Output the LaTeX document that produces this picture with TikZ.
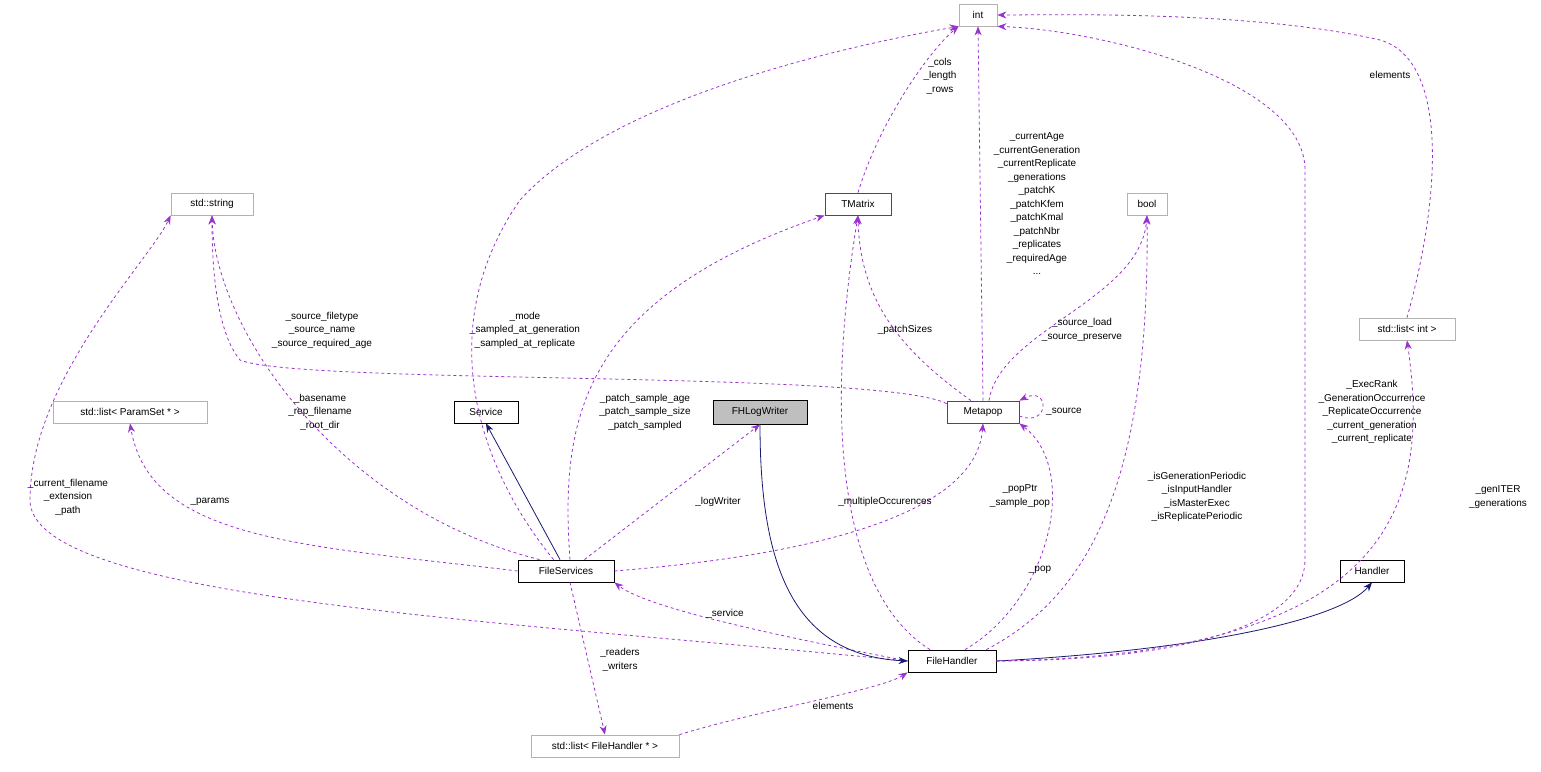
\documentclass[tikz,border=0pt]{standalone}
\usepackage{fontspec}
\setmainfont{Liberation Sans}
\usetikzlibrary{arrows.meta}
\begin{document}
\begin{tikzpicture}[x=1pt,y=-1pt,
  box/.style={draw,rectangle,minimum height=22pt,inner xsep=4pt,font=\fontsize{10}{12}\selectfont,line width=0.8pt},
  ext/.style={box,draw=gray!60},
  red/.style={box,draw=red},
  dep/.style={draw=violet!70!magenta,dashed,line width=0.8pt,-{Stealth[length=9pt,width=7pt]}},
  inh/.style={draw={rgb,255:red,25;green,25;blue,112},line width=0.8pt,-{Stealth[length=9pt,width=7pt]}},
  lbl/.style={font=\fontsize{10}{13.5}\selectfont,align=center,inner sep=0pt}]
\useasboundingbox (0,0) rectangle (1541,771);
\colorlet{violet!70!magenta}{violet}
\definecolor{pp}{HTML}{9A32CD}
\tikzset{dep/.style={draw=pp,dashed,line width=0.8pt,-{Stealth[length=9pt,width=7pt]}}}
\node[ext,minimum width=38pt] (int) at (978,15) {int};
\node[ext,minimum width=82pt] (str) at (212,204) {std::string};
\node[red,minimum width=66pt] (tm) at (858,204) {TMatrix};
\node[ext,minimum width=40pt] (bool) at (1147,204) {bool};
\node[ext,minimum width=96pt] (li) at (1407,329) {std::list< int >};
\node[ext,minimum width=154pt] (lp) at (130,412) {std::list< ParamSet * >};
\node[box,minimum width=64pt] (svc) at (486,412) {Service};
\node[box,minimum width=94pt,minimum height=24pt,fill=gray!50] (fhl) at (760,412) {FHLogWriter};
\node[red,minimum width=72pt] (mp) at (983,412) {Metapop};
\node[box,minimum width=96pt] (fs) at (566,571) {FileServices};
\node[box,minimum width=64pt] (hd) at (1372,571) {Handler};
\node[box,minimum width=88pt] (fh) at (952,661) {FileHandler};
\node[ext,minimum width=148pt] (lfh) at (605,746) {std::list< FileHandler * >};
% edges from FileServices
\draw[dep] (fs.north west) ++(36,0) .. controls (480,470) and (430,330) .. (520,200) .. controls (620,90) and (880,40) .. (int.south west);
\node[lbl] at (525,330) {\_mode\\\_sampled\_at\_generation\\\_sampled\_at\_replicate};
\draw[dep] (fs.north west) ++(22,0) .. controls (340,510) and (215,330) .. (str.south);
\node[lbl] at (320,412) {\_basename\\\_rep\_filename\\\_root\_dir};
\draw[dep] (fs.west) .. controls (300,545) and (150,540) .. (lp.south);
\node[lbl] at (210,502) {\_params};
\draw[inh] (fs.north) ++(-6,0) -- (svc.south);
\draw[dep] (fs.north) ++(4,0) .. controls (560,420) and (580,300) .. (tm.south west);
\node[lbl] at (645,412) {\_patch\_sample\_age\\\_patch\_sample\_size\\\_patch\_sampled};
\draw[dep] (fs.north east) ++(-30,0) -- (fhl.south);
\node[lbl] at (718,502) {\_logWriter};
\draw[dep] (fs.east) .. controls (750,560) and (975,530) .. (mp.south);
\node[lbl] at (1020,496) {\_popPtr\\\_sample\_pop};
\draw[dep] (fs.south) ++(4,0) -- (lfh.north);
\node[lbl] at (620,660) {\_readers\\\_writers};
% FileHandler
\draw[dep] (fh.west) .. controls (800,640) and (650,610) .. (fs.south east);
\node[lbl] at (725,614) {\_service};
\draw[dep] (fh.west) .. controls (500,620) and (30,600) .. (30,500) .. controls (30,380) and (150,260) .. (str.south west);
\node[lbl] at (68,497) {\_current\_filename\\\_extension\\\_path};
\draw[inh] (fhl.south) .. controls (760,560) and (790,655) .. (fh.west);
\draw[inh] (fh.east) .. controls (1200,650) and (1340,620) .. (hd.south);
\draw[dep] (fh.north) ++(-22,0) .. controls (850,600) and (820,450) .. (tm.south);
\node[lbl] at (885,502) {\_multipleOccurences};
\draw[dep] (fh.north) ++(13,0) .. controls (1050,600) and (1080,470) .. (mp.south east);
\node[lbl] at (1040,570) {\_pop};
\draw[dep] (fh.north east) ++(-10,0) .. controls (1080,600) and (1150,500) .. (bool.south);
\node[lbl] at (1197,497) {\_isGenerationPeriodic\\\_isInputHandler\\\_isMasterExec\\\_isReplicatePeriodic};
\draw[dep] (fh.east) .. controls (1200,660) and (1305,620) .. (1305,560) -- (1305,170) .. controls (1305,80) and (1100,30) .. (int.south east);
\node[lbl] at (1372,412) {\_ExecRank\\\_GenerationOccurrence\\\_ReplicateOccurrence\\\_current\_generation\\\_current\_replicate};
\draw[dep] (fh.east) .. controls (1400,655) and (1430,500) .. (li.south);
\node[lbl] at (1498,497) {\_genITER\\\_generations};
\draw[dep] (lfh.north east) .. controls (760,710) and (880,690) .. (fh.south west);
\node[lbl] at (833,706) {elements};
% others
\draw[dep] (li.north) .. controls (1440,200) and (1450,60) .. (1380,40) .. controls (1250,10) and (1050,15) .. (int.east);
\node[lbl] at (1390,75) {elements};
\draw[dep] (tm.north) .. controls (880,120) and (930,50) .. (int.south west);
\node[lbl] at (940,76) {\_cols\\\_length\\\_rows};
\draw[dep] (mp.north) -- (int.south);
\node[lbl,fill=white,inner sep=1pt] at (1037,204) {\_currentAge\\\_currentGeneration\\\_currentReplicate\\\_generations\\\_patchK\\\_patchKfem\\\_patchKmal\\\_patchNbr\\\_replicates\\\_requiredAge\\...};
\draw[dep] (mp.north) ++(6,0) .. controls (1000,330) and (1140,300) .. (bool.south);
\node[lbl] at (1082,330) {\_source\_load\\\_source\_preserve};
\draw[dep] (mp.north) ++(-12,0) .. controls (900,350) and (860,300) .. (tm.south);
\node[lbl] at (905,330) {\_patchSizes};
\draw[dep] (mp.north west) ++(0,3) .. controls (880,370) and (300,385) .. (240,360) .. controls (215,330) and (212,260) .. (str.south);
\node[lbl] at (322,330) {\_source\_filetype\\\_source\_name\\\_source\_required\_age};
\draw[dep] (mp.east) ++(0,4) .. controls (1050,428) and (1050,385) .. (mp.north east);
\node[lbl] at (1064,412) {\_source};
\end{tikzpicture}
\end{document}
